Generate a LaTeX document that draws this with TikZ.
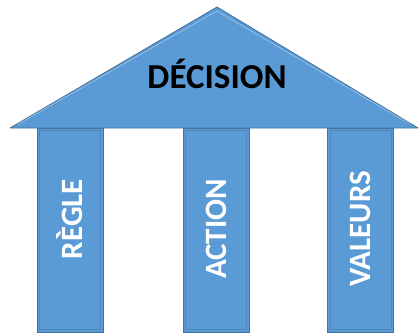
\documentclass[tikz,border=0pt]{standalone}
\usepackage{fontspec}
\setmainfont{Carlito}
\definecolor{roofblue}{HTML}{5B9BD5}
\definecolor{edgeblue}{HTML}{41719C}
\definecolor{bevelblue}{HTML}{4F88BE}
\begin{document}
\begin{tikzpicture}[x=1pt,y=-1pt,
  colbox/.style={draw=edgeblue, line width=0.8pt, fill=roofblue, minimum width=204pt, minimum height=66pt, inner sep=0pt, rotate=90,
    text=white, font=\bfseries\fontsize{31}{31}\selectfont},
  coltxt/.style={text=white, rotate=90, font=\bfseries\fontsize{31}{31}\selectfont},
  rooftxt/.style={font=\bfseries\fontsize{35}{35}\selectfont, text=black}]
\useasboundingbox (0,0) rectangle (419,333);
% roof
\draw[draw=edgeblue, line width=0.8pt, fill=roofblue, line join=round] (10,128) -- (217,7) -- (418,128) -- cycle;
\draw[draw=white, opacity=0.35, line width=0.8pt] (18,124) -- (217,11) -- (410,124);
\node[rooftxt] (decision) at (217,74) {DÉCISION};
% columns
\node[colbox] (regle) at (70,230) {};
\node[colbox] (action) at (216,230) {};
\node[colbox] (valeurs) at (360.5,230) {};
\foreach \c in {regle,action,valeurs}{
  \draw[bevelblue, line width=0.8pt] ([xshift=-3pt,yshift=3pt]\c.south west) rectangle ([xshift=3pt,yshift=-3pt]\c.north east);
}
\node[coltxt] (t1) at (70,219) {RÈGLE};
\node[coltxt] (t2) at (216,229) {ACTION};
\node[coltxt] (t3) at (360.5,229) {VALEURS};
\end{tikzpicture}
\end{document}
